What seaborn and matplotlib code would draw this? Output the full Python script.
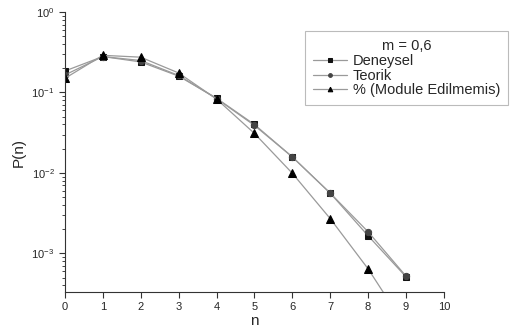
import matplotlib
matplotlib.use("Agg")
import matplotlib.pyplot as plt
import numpy as np
import pandas as pd
import seaborn as sns

n = [0, 1, 2, 3, 4, 5, 6, 7, 8, 9]
deneysel = [0.185, 0.28, 0.24, 0.16, 0.085, 0.040, 0.0158, 0.0056, 0.00165, 0.00051]
teorik = [0.165, 0.28, 0.25, 0.163, 0.084, 0.039, 0.0158, 0.0056, 0.00185, 0.00052]
modulesiz = [0.15, 0.29, 0.275, 0.175, 0.083, 0.031, 0.0099, 0.0027, 0.00064, 0.00012]

sns.set_style("ticks")
plt.rcParams["font.family"] = ["Liberation Sans", "DejaVu Sans"]

fig = plt.figure(figsize=(5.15, 3.27), dpi=100)
ax = fig.add_axes([0.126, 0.107, 0.736, 0.856])

series = [
    ("Deneysel", deneysel, "s", "#111111", 4.5),
    ("Teorik", teorik, "o", "#444444", 4.5),
    ("% (Module Edilmemis)", modulesiz, "^", "#000000", 5.5),
]
for label, vals, mk, mc, ms in series:
    df = pd.DataFrame({"n": n, "p": vals})
    sns.lineplot(data=df, x="n", y="p", ax=ax, color="#9a9a9a", lw=0.9,
                 marker=mk, markersize=ms, markerfacecolor=mc,
                 markeredgecolor=mc, label=label)

ax.set_yscale("log")
ax.set_xlim(0, 10)
ax.set_ylim(3.3e-4, 1)
ax.set_xticks(range(0, 11))
ax.set_xlabel("n", fontsize=11, labelpad=1)
ax.set_ylabel("P(n)", fontsize=11)
ax.tick_params(labelsize=8, length=4, width=0.8, color="#333333")
ax.tick_params(which="minor", length=2, width=0.6)
for s in ["top", "right"]:
    ax.spines[s].set_visible(False)
for s in ["left", "bottom"]:
    ax.spines[s].set_color("#333333")

leg = ax.legend(title="m = 0,6", loc="upper right", bbox_to_anchor=(1.169, 0.932),
                fontsize=10.5, title_fontsize=10.5, frameon=True, fancybox=False,
                edgecolor="#aaaaaa", handlelength=2.3, borderpad=0.55,
                labelspacing=0.05, markerscale=0.6, handletextpad=0.4,
                borderaxespad=0.0)
leg.get_frame().set_linewidth(0.8)

fig.savefig("out.png", dpi=100)
